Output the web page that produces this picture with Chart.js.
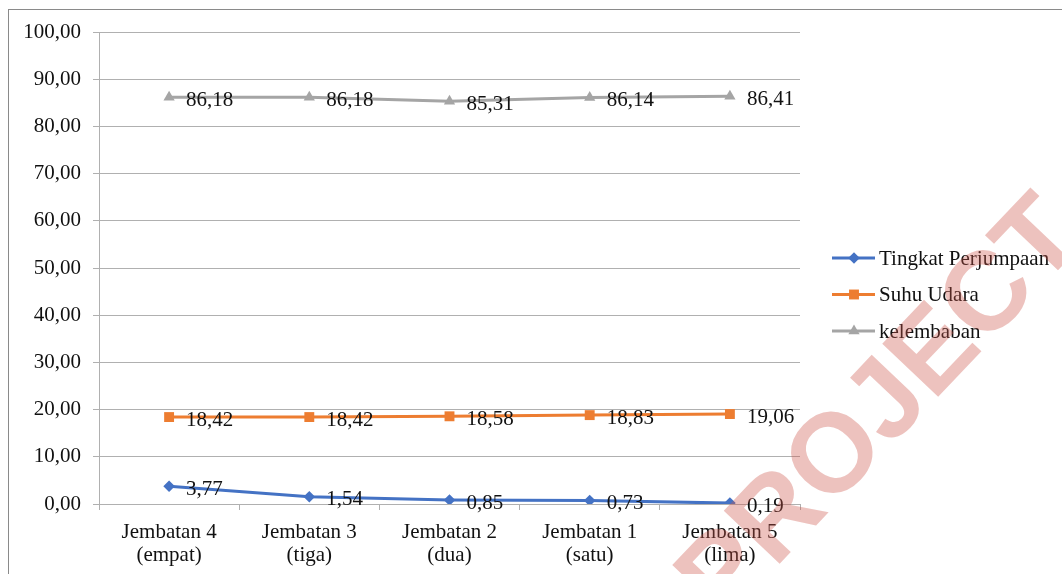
<!DOCTYPE html>
<html>
<head>
<meta charset="utf-8">
<script src="https://cdn.jsdelivr.net/npm/chart.js@4/dist/chart.umd.min.js"></script>
<style>
html,body{margin:0;padding:0;background:#fff;overflow:hidden;}
#wrap{position:absolute;left:0;top:0;width:1062px;height:574px;}
</style>
</head>
<body>
<div id="wrap"><canvas id="c" width="1062" height="574"></canvas></div>
<script>
const categories = [
  ['Jembatan 4', '(empat)'],
  ['Jembatan 3', '(tiga)'],
  ['Jembatan 2', '(dua)'],
  ['Jembatan 1', '(satu)'],
  ['Jembatan 5', '(lima)']
];
const seriesNames = ['Tingkat Perjumpaan', 'Suhu Udara', 'kelembaban'];
const tingkatPerjumpaan = [3.77, 1.54, 0.85, 0.73, 0.19];
const suhuUdara = [18.42, 18.42, 18.58, 18.83, 19.06];
const kelembaban = [86.18, 86.18, 85.31, 86.14, 86.41];
const yTicks = { min: 0, max: 100, step: 10 };
const watermarkText = 'PROJECT';

const FONT = '"Liberation Serif", "Times New Roman", serif';
const colors = ['#4472C4', '#ED7D31', '#A5A5A5'];
const styles = ['rectRot', 'rect', 'triangle'];
const radii = [5.8, 7, 6.5];
const fmt = v => v.toFixed(2).replace('.', ',');

function drawMarker(ctx, style, x, y, r, color) {
  ctx.save();
  ctx.fillStyle = color;
  ctx.beginPath();
  if (style === 'rectRot') {
    ctx.moveTo(x, y - r); ctx.lineTo(x + r, y); ctx.lineTo(x, y + r); ctx.lineTo(x - r, y);
  } else if (style === 'rect') {
    const s = r * Math.SQRT1_2;
    ctx.rect(x - s, y - s, 2 * s, 2 * s);
  } else {
    const w = r * Math.sqrt(3);
    ctx.moveTo(x, y - r); ctx.lineTo(x + w / 2, y + r / 2); ctx.lineTo(x - w / 2, y + r / 2);
  }
  ctx.closePath();
  ctx.fill();
  ctx.restore();
}

const bgPlugin = {
  id: 'bg',
  beforeDraw(chart) {
    const ctx = chart.ctx;
    ctx.save();
    ctx.fillStyle = '#fff';
    ctx.fillRect(0, 0, chart.width, chart.height);
    ctx.strokeStyle = '#8a8a8a';
    ctx.lineWidth = 1;
    ctx.strokeRect(8.5, 9.5, 1200, 800);
    ctx.restore();
  }
};

const labelPlugin = {
  id: 'vlabels',
  afterDatasetsDraw(chart) {
    const ctx = chart.ctx;
    ctx.save();
    ctx.font = '21px ' + FONT;
    ctx.fillStyle = '#111';
    ctx.textAlign = 'left';
    ctx.textBaseline = 'middle';
    chart.data.datasets.forEach((ds, i) => {
      const meta = chart.getDatasetMeta(i);
      meta.data.forEach((pt, j) => {
        ctx.fillText(fmt(ds.data[j]), pt.x + 17, pt.y + 3);
      });
    });
    ctx.restore();
  }
};

const legendPlugin = {
  id: 'customLegend',
  afterDraw(chart) {
    const ctx = chart.ctx;
    ctx.save();
    ctx.font = '21px ' + FONT;
    ctx.textBaseline = 'middle';
    ctx.textAlign = 'left';
    chart.data.datasets.forEach((ds, i) => {
      const y = 258 + i * 36.5;
      ctx.strokeStyle = ds.borderColor;
      ctx.lineWidth = 3;
      ctx.beginPath();
      ctx.moveTo(832, y); ctx.lineTo(875, y);
      ctx.stroke();
      drawMarker(ctx, ds.pointStyle, 854, y, ds.pointRadius, ds.borderColor);
      ctx.fillStyle = '#111';
      ctx.fillText(ds.label, 879, y + 1);
    });
    ctx.restore();
  }
};

const watermarkPlugin = {
  id: 'watermark',
  afterDraw(chart) {
    const ctx = chart.ctx;
    ctx.save();
    ctx.fillStyle = 'rgba(205,85,75,0.36)';
    const size = 112;
    ctx.font = 'bold ' + size + 'px "Liberation Sans", Arial, sans-serif';
    ctx.textAlign = 'center';
    ctx.textBaseline = 'alphabetic';
    ctx.translate(876, 404);
    ctx.rotate(-46.5 * Math.PI / 180);
    ctx.fillText(watermarkText, 0, size * 0.358);
    ctx.restore();
  }
};

const seriesData = [tingkatPerjumpaan, suhuUdara, kelembaban];
const gridColor = '#b0b0b0';

new Chart(document.getElementById('c'), {
  type: 'line',
  data: {
    labels: categories,
    datasets: seriesData.map((d, i) => ({
      label: seriesNames[i],
      data: d,
      borderColor: colors[i],
      backgroundColor: colors[i],
      borderWidth: 3,
      tension: 0,
      pointStyle: styles[i],
      pointRadius: radii[i],
      pointBackgroundColor: colors[i],
      pointBorderColor: colors[i],
      pointBorderWidth: 0,
      fill: false
    }))
  },
  options: {
    responsive: false,
    devicePixelRatio: 1,
    animation: false,
    events: [],
    layout: { padding: { left: 0, top: 32, right: 262, bottom: 0 } },
    plugins: { legend: { display: false }, tooltip: { enabled: false } },
    scales: {
      x: {
        offset: true,
        afterFit(s) { s.height = 70; },
        grid: { offset: true, drawOnChartArea: false, drawTicks: true, tickLength: 6, color: gridColor },
        border: { display: true, color: gridColor },
        ticks: {
          autoSkip: false, maxRotation: 0, minRotation: 0, padding: 11,
          color: '#111', font: { family: FONT, size: 21, lineHeight: 1.1 }
        }
      },
      y: {
        min: yTicks.min, max: yTicks.max,
        afterFit(s) { s.width = 99; },
        grid: { color: gridColor, drawTicks: true, tickLength: 6 },
        border: { display: true, color: gridColor },
        ticks: {
          stepSize: yTicks.step, padding: 12, color: '#111',
          font: { family: FONT, size: 21 },
          callback: v => fmt(v)
        }
      }
    }
  },
  plugins: [bgPlugin, labelPlugin, legendPlugin, watermarkPlugin]
});
</script>
</body>
</html>
